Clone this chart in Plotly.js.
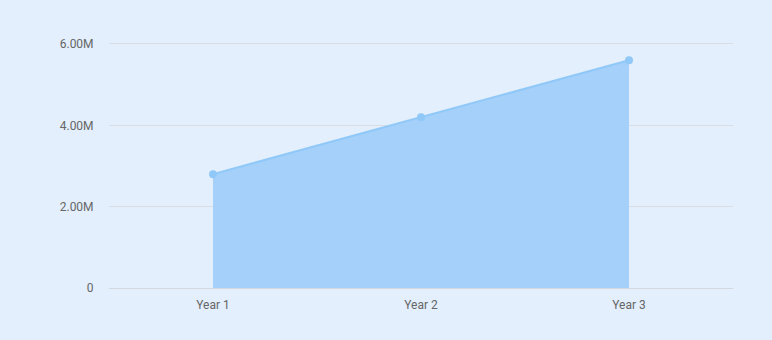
<!DOCTYPE html>
<html>
<head>
<meta charset="utf-8">
<script src="https://cdn.plot.ly/plotly-3.0.1.min.js"></script>
<style>html,body{margin:0;padding:0;background:#e3effd;}#chart{width:772px;height:340px;}</style>
</head>
<body>
<div id="chart"></div>
<script>
const categories = ["Year 1", "Year 2", "Year 3"];
const values = [2800000, 4200000, 5600000];
const yTickVals = [0, 2000000, 4000000, 6000000];
const yTickText = ["0", "2.00M", "4.00M", "6.00M"];

const trace = {
  x: categories,
  y: values,
  type: "scatter",
  mode: "lines+markers",
  fill: "tozeroy",
  fillcolor: "rgba(160,206,250,0.95)",
  line: {color: "#90c8f8", width: 2},
  marker: {color: "#90c8f8", size: 8},
  hoverinfo: "x+y"
};

const layout = {
  width: 772,
  height: 340,
  margin: {l: 109, r: 39, t: 40, b: 52},
  paper_bgcolor: "#e3effd",
  plot_bgcolor: "#e3effd",
  showlegend: false,
  font: {family: "Roboto, sans-serif", size: 12, color: "#666666"},
  xaxis: {
    type: "category",
    range: [-0.5, 2.5],
    showgrid: false,
    zeroline: false,
    showline: false,
    ticks: "outside",
    ticklen: 6,
    tickcolor: "rgba(0,0,0,0)",
    tickfont: {family: "Roboto, sans-serif", size: 12, color: "#666666"}
  },
  yaxis: {
    range: [0, 6098000],
    tickvals: yTickVals,
    ticktext: yTickText,
    showgrid: true,
    gridcolor: "#d9dde3",
    gridwidth: 1,
    zeroline: true,
    zerolinecolor: "#d3d8de",
    zerolinewidth: 1,
    showline: false,
    ticks: "outside",
    ticklen: 12,
    tickcolor: "rgba(0,0,0,0)",
    tickfont: {family: "Roboto, sans-serif", size: 12, color: "#666666"}
  }
};

Plotly.newPlot("chart", [trace], layout, {displayModeBar: false, staticPlot: true});
</script>
</body>
</html>
